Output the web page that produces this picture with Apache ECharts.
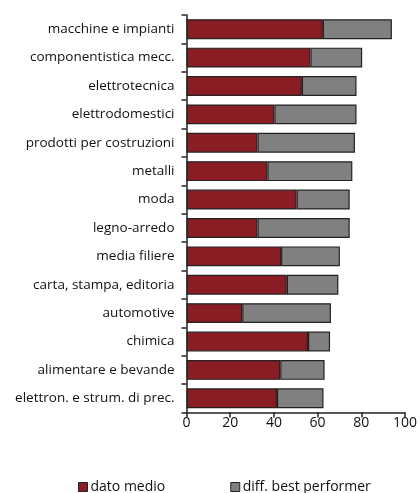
<!DOCTYPE html>
<html>
<head>
<meta charset="utf-8">
<script src="https://cdn.jsdelivr.net/npm/echarts@6/dist/echarts.min.js"></script>
<style>
  html, body { margin: 0; padding: 0; background: #fff; }
  #chart { width: 420px; height: 493px; }
</style>
</head>
<body>
<div id="chart"></div>
<script>
// Sectors, top to bottom
const categories = [
  'macchine e impianti',
  'componentistica mecc.',
  'elettrotecnica',
  'elettrodomestici',
  'prodotti per costruzioni',
  'metalli',
  'moda',
  'legno-arredo',
  'media filiere',
  'carta, stampa, editoria',
  'automotive',
  'chimica',
  'alimentare e bevande',
  'elettron. e strum. di prec.'
];
// Average score per sector
const datoMedio = [62.4, 56.7, 52.8, 40.2, 32.5, 37.0, 50.4, 32.5, 43.3, 45.9, 25.5, 55.6, 42.9, 41.4];
// Gap between the average and the best performer
const diffBest = [31.6, 23.7, 25.0, 37.6, 44.6, 38.9, 24.3, 42.2, 26.9, 23.6, 40.6, 10.1, 20.3, 21.3];
const xTicks = [0, 20, 40, 60, 80, 100];

const fontFamily = '"Open Sans", "DejaVu Sans Condensed", sans-serif';
const textColor = '#111';
const chart = echarts.init(document.getElementById('chart'));
chart.setOption({
  animation: false,
  grid: { left: 186.5, right: 11, top: 15, bottom: 80.5, containLabel: false },
  legend: {
    top: 480,
    left: 78,
    padding: 0,
    itemGap: 65,
    itemWidth: 9,
    itemHeight: 9,
    icon: 'rect',
    itemStyle: { borderColor: '#222', borderWidth: 1 },
    textStyle: { fontFamily, fontSize: 14, fontWeight: 500, color: textColor, padding: [0, 0, 0, -2] },
    data: ['dato medio', 'diff. best performer']
  },
  xAxis: {
    type: 'value',
    min: xTicks[0],
    max: xTicks[xTicks.length - 1],
    interval: 20,
    axisLine: { show: true, lineStyle: { color: '#222', width: 1.5 } },
    axisTick: { show: true, length: 5, lineStyle: { color: '#222', width: 1.5 } },
    splitLine: { show: false },
    axisLabel: { fontFamily, fontSize: 14, fontWeight: 500, color: textColor, margin: 4 }
  },
  yAxis: {
    type: 'category',
    inverse: true,
    data: categories,
    axisLine: { show: true, lineStyle: { color: '#222', width: 1.5 } },
    axisTick: { show: true, length: 5, lineStyle: { color: '#222', width: 1.5 } },
    axisLabel: { fontFamily, fontSize: 13.5, fontWeight: 500, color: textColor, margin: 12 }
  },
  series: [
    {
      name: 'dato medio',
      type: 'bar',
      stack: 'totale',
      data: datoMedio,
      barCategoryGap: '30%',
      itemStyle: { color: '#8a1c24', borderColor: '#222', borderWidth: 1.2 }
    },
    {
      name: 'diff. best performer',
      type: 'bar',
      stack: 'totale',
      data: diffBest,
      barCategoryGap: '30%',
      itemStyle: { color: '#808080', borderColor: '#222', borderWidth: 1.2 }
    }
  ]
});
</script>
</body>
</html>
